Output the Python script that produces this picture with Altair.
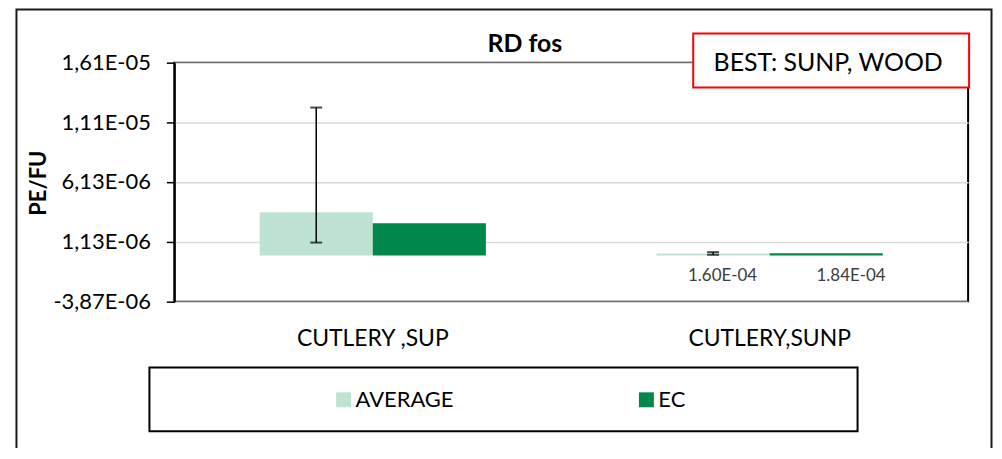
import altair as alt
import pandas as pd

# ---- data ----
categories = ["CUTLERY ,SUP", "CUTLERY,SUNP"]
series = ["AVERAGE", "EC"]
average_values = [3.60e-6, 1.60e-7]
ec_values = [2.68e-6, 1.84e-7]
average_err_low = [1.07e-6, 0.5e-7]
average_err_high = [1.235e-5, 2.7e-7]
average_value_labels = ["", "1.60E-04"]
ec_value_labels = ["", "1.84E-04"]
y_ticks = [-3.87e-6, 1.13e-6, 6.13e-6, 1.11e-5, 1.61e-5]
y_tick_labels = ["-3,87E-06", "1,13E-06", "6,13E-06", "1,11E-05", "1,61E-05"]
title_text = ["RD fos"]
y_title = "PE/FU"
note_text = ["BEST: SUNP, WOOD"]
colors = ["#bfe3d3", "#00874b"]

FONT = "Lato"

rows = []
for i, c in enumerate(categories):
    rows.append({"cat": c, "series": "AVERAGE", "value": average_values[i],
                 "lo": average_err_low[i], "hi": average_err_high[i],
                 "label": average_value_labels[i]})
    rows.append({"cat": c, "series": "EC", "value": ec_values[i],
                 "lo": None, "hi": None, "label": ec_value_labels[i]})
df = pd.DataFrame(rows)

label_expr = " : ".join(
    f"abs(datum.value - ({v})) < 1e-9 ? '{l}'" for v, l in zip(y_ticks, y_tick_labels)
) + " : ''"

x_enc = alt.X("cat:N", sort=categories,
              scale=alt.Scale(paddingInner=0.43, paddingOuter=0.215),
              axis=alt.Axis(title=None, labelAngle=0, ticks=False, tickSize=0, domain=False,
                            labelPadding=44, labelBaseline="alphabetic",
                            labelFontSize=23, labelFont=FONT, labelColor="black",
                            labelLimit=400, grid=False))
xoff_enc = alt.XOffset("series:N", sort=series,
                       scale=alt.Scale(paddingInner=0, paddingOuter=0))
y_scale = alt.Scale(domain=[y_ticks[0], y_ticks[-1]], nice=False, zero=False)
y_enc = alt.Y("value:Q", scale=y_scale,
              axis=alt.Axis(values=y_ticks, labelExpr=label_expr, title=y_title,
                            labelFont=FONT, labelFontSize=22, labelColor="black",
                            labelPadding=16, tickSize=8, tickColor="black", tickWidth=1.5,
                            domainColor="black", domainWidth=2,
                            grid=True, gridColor="#d9d9d9", gridWidth=1.5,
                            titleFont=FONT, titleFontSize=22, titleFontWeight="bold",
                            titleColor="black", titleAngle=270, titleX=-129, titleY=120.5,
                            titleAlign="center", titleBaseline="alphabetic"))
color_enc = alt.Color("series:N", sort=series,
                      scale=alt.Scale(domain=series, range=colors),
                      legend=alt.Legend(title=None, orient="none", legendX=159, legendY=327.5,
                                        direction="horizontal", columns=2,
                                        symbolType="square", symbolSize=225,
                                        symbolStrokeWidth=0, symbolOpacity=1,
                                        labelFont=FONT, labelFontSize=22, labelColor="black",
                                        labelOffset=1, columnPadding=182, padding=0))

base = alt.Chart(df)

one = pd.DataFrame({"k": [0]})

outer_frame = alt.Chart(one).mark_rect(fill="transparent", stroke="#1a1a1a", strokeWidth=2).encode(
    x=alt.value(-158.5), x2=alt.value(820.5), y=alt.value(-53.5), y2=alt.value(430))

legend_box = alt.Chart(one).mark_rect(fill="transparent", stroke="black", strokeWidth=2).encode(
    x=alt.value(-25), x2=alt.value(686), y=alt.value(306), y2=alt.value(370))

bars = base.mark_bar().encode(
    x=x_enc, xOffset=xoff_enc, y=y_enc, y2=alt.datum(0), color=color_enc)

err = base.transform_filter(alt.datum.series == "AVERAGE")
err_rule = err.mark_rule(color="black", strokeWidth=1.5).encode(
    x=alt.X("cat:N", sort=categories), xOffset=alt.XOffset("series:N", sort=series),
    y=alt.Y("lo:Q", scale=y_scale), y2="hi:Q")
err_cap_lo = err.mark_tick(color="black", thickness=2, size=12).encode(
    x=alt.X("cat:N", sort=categories), xOffset=alt.XOffset("series:N", sort=series),
    y=alt.Y("lo:Q", scale=y_scale))
err_cap_hi = err.mark_tick(color="black", thickness=2, size=12).encode(
    x=alt.X("cat:N", sort=categories), xOffset=alt.XOffset("series:N", sort=series),
    y=alt.Y("hi:Q", scale=y_scale))

lbl_avg = base.transform_filter(alt.datum.series == "AVERAGE").mark_text(
    font=FONT, fontSize=17, color="#404040", baseline="alphabetic", align="center",
    dx=9.5, dy=28).encode(
    x=alt.X("cat:N", sort=categories), xOffset=alt.XOffset("series:N", sort=series),
    y=alt.Y("value:Q", scale=y_scale), text="label:N")
lbl_ec = base.transform_filter(alt.datum.series == "EC").mark_text(
    font=FONT, fontSize=17, color="#404040", baseline="alphabetic", align="center",
    dx=25, dy=28).encode(
    x=alt.X("cat:N", sort=categories), xOffset=alt.XOffset("series:N", sort=series),
    y=alt.Y("value:Q", scale=y_scale), text="label:N")

title_mark = alt.Chart(pd.DataFrame({"t": title_text})).mark_text(
    font=FONT, fontSize=25, fontWeight="bold", color="black",
    align="center", baseline="alphabetic").encode(
    text="t:N", x=alt.value(352), y=alt.value(-10.3))

note_box = alt.Chart(one).mark_rect(fill="white", stroke="#ff0000", strokeWidth=2).encode(
    x=alt.value(521), x2=alt.value(798), y=alt.value(-29.3), y2=alt.value(25))
note_mark = alt.Chart(pd.DataFrame({"n": note_text})).mark_text(
    font=FONT, fontSize=25, color="black", align="center", baseline="alphabetic").encode(
    text="n:N", x=alt.value(656.5), y=alt.value(8.7))

chart = alt.layer(
    outer_frame, legend_box, bars, err_rule, err_cap_lo, err_cap_hi,
    lbl_avg, lbl_ec, title_mark, note_box, note_mark
).properties(
    width=797, height=240,
    padding={"left": 167, "top": 54, "right": 26, "bottom": 146},
    autosize=alt.AutoSizeParams(type="none"),
    background="white",
).configure_view(stroke="black", strokeWidth=2)

chart.save("out.html", embed_options={"renderer": "svg", "actions": False})
